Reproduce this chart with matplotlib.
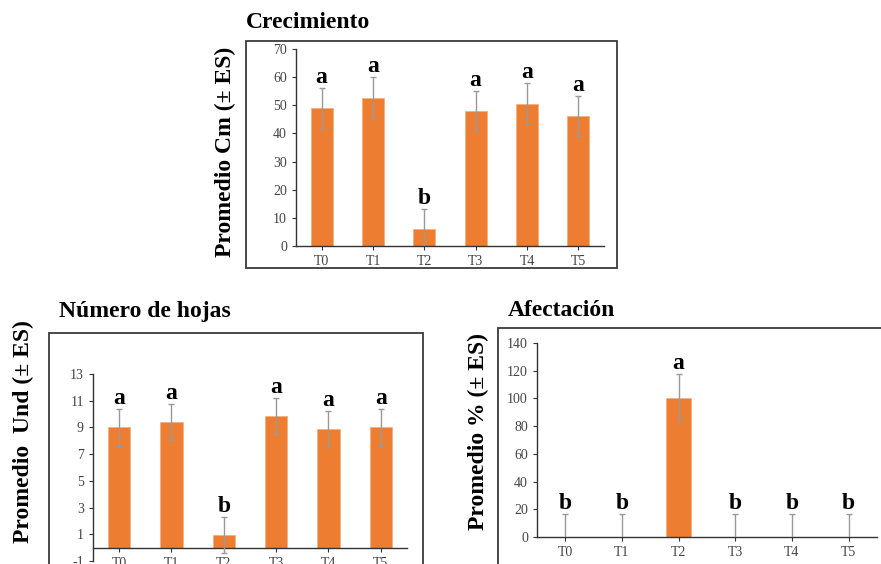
import numpy as np
import matplotlib.pyplot as plt
from matplotlib.patches import Rectangle

plt.rcParams['font.family'] = ['Liberation Serif', 'DejaVu Serif']
plt.rcParams['axes.unicode_minus'] = False

# data
trat = ['T0', 'T1', 'T2', 'T3', 'T4', 'T5']

crec = [49.0, 52.7, 6.0, 48.0, 50.6, 46.2]
crec_es = [7.3, 7.3, 7.2, 7.2, 7.2, 7.2]
crec_let = ['a', 'a', 'b', 'a', 'a', 'a']

hojas = [9.0, 9.4, 0.95, 9.85, 8.85, 9.0]
hojas_es = [1.4, 1.35, 1.35, 1.35, 1.35, 1.4]
hojas_let = ['a', 'a', 'b', 'a', 'a', 'a']

afect = [0, 0, 100.5, 0, 0, 0]
afect_es = [16.5, 16.5, 17.0, 16.5, 16.5, 16.5]
afect_let = ['b', 'b', 'a', 'b', 'b', 'b']

W, H = 881, 564
fig = plt.figure(figsize=(W / 100, H / 100), dpi=100)


def rect(x0, y0, x1, y1):
    # pixel box (from top-left) -> figure fraction
    return [x0 / W, 1 - y1 / H, (x1 - x0) / W, (y1 - y0) / H]


def frame(x0, y0, x1, y1):
    r = rect(x0, y0, x1, y1)
    fig.patches.append(Rectangle((r[0], r[1]), r[2], r[3], transform=fig.transFigure,
                                 fill=False, edgecolor='#3a3a3a', lw=1.3))


def panel(box, vals, errs, lets, ylim, yticks, zero_axis=False):
    ax = fig.add_axes(rect(*box))
    x = np.arange(len(trat))
    ax.bar(x, vals, width=0.43, color='#ED7D31', edgecolor='#F4B183', lw=0.6, zorder=2)
    ax.errorbar(x, vals, yerr=errs, fmt='none', ecolor='#999999', elinewidth=1,
                capsize=2.5, capthick=1, zorder=3)
    for xi, v, e, l in zip(x, vals, errs, lets):
        ax.text(xi, v + e, l, ha='center', va='bottom', fontsize=17,
                fontweight='bold', zorder=4)
    ax.set_xlim(-0.5, 5.5)
    ax.set_ylim(*ylim)
    ax.set_yticks(yticks)
    ax.set_xticks(x)
    ax.set_xticklabels(trat)
    for s in ['top', 'right']:
        ax.spines[s].set_visible(False)
    for s in ['left', 'bottom']:
        ax.spines[s].set_color('#333333')
        ax.spines[s].set_linewidth(1)
    if zero_axis:
        ax.spines['bottom'].set_position(('data', 0))
    ax.tick_params(labelsize=10, colors='#333333', labelcolor='#444444',
                   length=3, width=0.8)
    ax.patch.set_alpha(0)
    return ax


# Crecimiento
frame(246, 41, 617, 268)
panel((296, 49, 604, 246), crec, crec_es, crec_let, (0, 70), np.arange(0, 71, 10))
fig.text(246 / W, 1 - 22 / H, 'Crecimiento', fontsize=17, fontweight='bold',
         ha='left', va='center')
fig.text(225 / W, 1 - 152 / H, 'Promedio Cm (± ES)', fontsize=17, fontweight='bold',
         rotation=90, ha='center', va='center')

# Numero de hojas
frame(49, 333, 423, 600)
panel((93, 374, 407, 561), hojas, hojas_es, hojas_let, (-1, 13), np.arange(-1, 14, 2),
      zero_axis=True)
fig.text(59 / W, 1 - 311 / H, 'Número de hojas', fontsize=17, fontweight='bold',
         ha='left', va='center')
fig.text(23 / W, 1 - 432 / H, 'Promedio  Und (± ES)', fontsize=17, fontweight='bold',
         rotation=90, ha='center', va='center')

# Afectacion
frame(498, 328, 900, 600)
panel((537, 343, 877, 537), afect, afect_es, afect_let, (0, 140), np.arange(0, 141, 20))
fig.text(508 / W, 1 - 310 / H, 'Afectación', fontsize=17, fontweight='bold',
         ha='left', va='center')
fig.text(478 / W, 1 - 431 / H, 'Promedio % (± ES)', fontsize=17, fontweight='bold',
         rotation=90, ha='center', va='center')

fig.savefig('out.png', dpi=100)
